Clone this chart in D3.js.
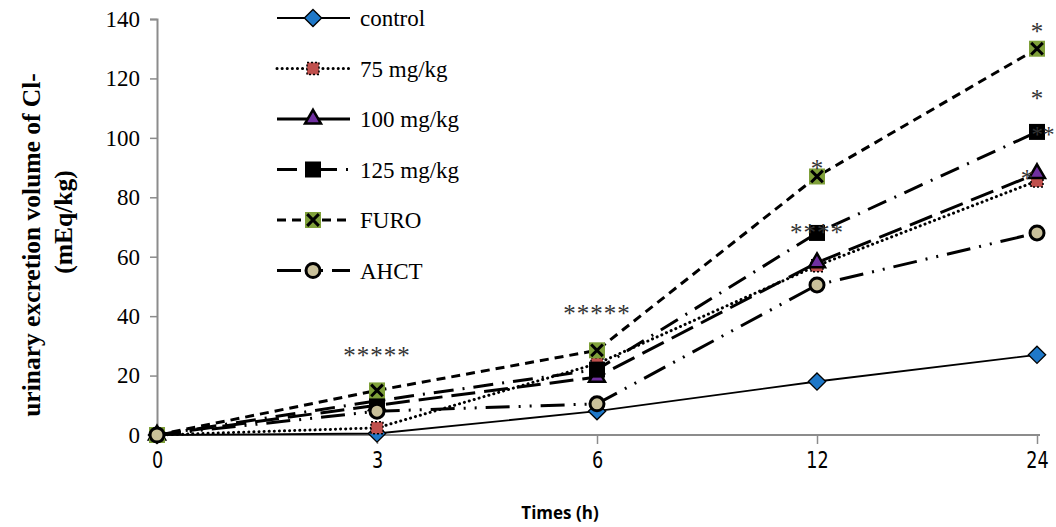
<!DOCTYPE html>
<html>
<head>
<meta charset="utf-8">
<script src="https://cdn.jsdelivr.net/npm/d3@7"></script>
<style>
  body { margin: 0; background: #fff; }
  svg { display: block; }
</style>
</head>
<body>
<svg id="chart"></svg>
<script>
// data
var times = ['0', '3', '6', '12', '24'];
var control = [0, 0.5, 8, 18, 27];
var mg75 = [0, 2.4, 24, 57, 85.5];
var mg100 = [0, 10, 19.5, 58, 88];
var mg125 = [0, 11.5, 22, 68, 102];
var furo = [0, 15, 28.5, 87, 130];
var ahct = [0, 8, 10.5, 50.5, 68];
var yTicks = [0, 20, 40, 60, 80, 100, 120, 140];

// star labels (time, value it sits at, text)
var stars = [
  ['3', 29, '*****'],
  ['6', 43, '*****'],
  ['12', 92, '*'],
  ['12', 70.5, '****'],
  ['24', 138, '*'],
  ['24', 115.5, '*'],
  ['24', 103.5, '**'],
  ['24', 88.5, '*']
];

var series = [
  { name: 'control', values: control, dash: null, marker: 'diamond', fill: '#1f78c8' },
  { name: '75 mg/kg', values: mg75, dash: '0.1,5', marker: 'star', fill: '#c0504d' },
  { name: '100 mg/kg', values: mg100, dash: '24,9', marker: 'triangle', fill: '#7030a0' },
  { name: '125 mg/kg', values: mg125, dash: '20,9,2,9', marker: 'square', fill: '#000' },
  { name: 'FURO', values: furo, dash: '9,6', marker: 'x', fill: '#7fa03a' },
  { name: 'AHCT', values: ahct, dash: '24,9,2,9,2,9', marker: 'circle', fill: '#c9c09a' }
];

var svgWidth = 1056, svgHeight = 527;

var svg = d3.select('#chart')
    .attr('width', svgWidth)
    .attr('height', svgHeight);

var xScale = d3.scalePoint()
    .domain(times)
    .range([157, 1037]);

var yScale = d3.scaleLinear()
    .domain([0, 140])
    .range([435, 19]);

// axes
var yAxis = svg.append('g')
    .attr('transform', 'translate(157,0)')
    .call(d3.axisLeft(yScale).tickValues(yTicks).tickSize(7).tickPadding(10));
yAxis.select('.domain').attr('stroke', '#8c8c8c').attr('stroke-width', 2);
yAxis.selectAll('.tick line').attr('stroke', '#8c8c8c').attr('stroke-width', 1.5);
yAxis.selectAll('.tick text')
    .style('font-family', '"Liberation Serif", "Times New Roman", serif')
    .style('font-size', '23px')
    .attr('fill', '#000');

var xAxis = svg.append('g')
    .attr('transform', 'translate(0,435)')
    .call(d3.axisBottom(xScale).tickSize(9).tickPadding(8).tickSizeOuter(0));
xAxis.select('.domain').attr('stroke', '#8c8c8c').attr('stroke-width', 2)
    .attr('d', 'M157,0H1040');
xAxis.selectAll('.tick line').attr('stroke', '#8c8c8c').attr('stroke-width', 1.5)
    .attr('display', function (d) { return d === '0' ? 'none' : null; });
// narrow labels, still centred on their ticks
xAxis.selectAll('.tick text')
    .style('font-family', '"Liberation Sans Narrow", "DejaVu Sans Condensed", sans-serif')
    .style('font-size', '23px')
    .attr('transform', 'scale(0.85,1)')
    .attr('fill', '#000');

// axis titles
svg.append('text')
    .attr('x', 560).attr('y', 519)
    .attr('text-anchor', 'middle')
    .style('font-family', '"Open Sans", "DejaVu Sans Condensed", sans-serif')
    .style('font-weight', 'bold')
    .style('font-size', '17px')
    .text('Times (h)');

svg.append('text')
    .attr('transform', 'translate(40,245) rotate(-90)')
    .attr('text-anchor', 'middle')
    .style('font-family', '"Liberation Serif", "Times New Roman", serif')
    .style('font-weight', 'bold')
    .style('font-size', '25.5px')
    .text('urinary excretion volume of Cl-');

svg.append('text')
    .attr('transform', 'translate(72,222) rotate(-90)')
    .attr('text-anchor', 'middle')
    .style('font-family', '"Liberation Serif", "Times New Roman", serif')
    .style('font-weight', 'bold')
    .style('font-size', '25.5px')
    .text('(mEq/kg)');

// markers
function drawMarker(g, s) {
  if (s.marker === 'diamond') {
    g.append('path').attr('d', d3.symbol(d3.symbolDiamond, 85)())
      .attr('transform', 'scale(1.75,1)')
      .attr('fill', s.fill).attr('stroke', '#000').attr('stroke-width', 1.3)
      .attr('vector-effect', 'non-scaling-stroke');
  } else if (s.marker === 'star') {
    g.append('rect').attr('x', -6).attr('y', -6).attr('width', 12).attr('height', 12)
      .attr('fill', s.fill).attr('stroke', '#000').attr('stroke-width', 1.5)
      .attr('stroke-dasharray', '2,2');
  } else if (s.marker === 'triangle') {
    g.append('path').attr('d', d3.symbol(d3.symbolTriangle, 110)())
      .attr('fill', s.fill).attr('stroke', '#000').attr('stroke-width', 2.5);
  } else if (s.marker === 'square') {
    g.append('rect').attr('x', -8).attr('y', -8).attr('width', 16).attr('height', 16)
      .attr('fill', s.fill);
  } else if (s.marker === 'x') {
    g.append('rect').attr('x', -8).attr('y', -8).attr('width', 16).attr('height', 16)
      .attr('fill', s.fill);
    g.append('path').attr('d', d3.symbol(d3.symbolX, 90)())
      .attr('stroke', '#000').attr('stroke-width', 3).attr('fill', 'none');
  } else if (s.marker === 'circle') {
    g.append('circle').attr('r', 7)
      .attr('fill', s.fill).attr('stroke', '#000').attr('stroke-width', 3);
  }
}

var line = d3.line()
    .x(function (d, i) { return xScale(times[i]); })
    .y(function (d) { return yScale(d); });

var plot = svg.append('g');

series.forEach(function (s) {
  plot.append('path')
    .datum(s.values)
    .attr('d', line)
    .attr('fill', 'none')
    .attr('stroke', '#000')
    .attr('stroke-width', s.marker === 'diamond' ? 1.8 : 3)
    .attr('stroke-linecap', s.dash === '0.1,5' ? 'round' : 'butt')
    .attr('stroke-dasharray', s.dash);
});

series.forEach(function (s) {
  s.values.forEach(function (v, i) {
    var g = plot.append('g')
      .attr('transform', 'translate(' + xScale(times[i]) + ',' + yScale(v) + ')');
    drawMarker(g, s);
  });
});

// star labels
svg.selectAll('.star')
    .data(stars)
    .enter()
    .append('text')
    .attr('class', 'star')
    .attr('x', function (d) { return xScale(d[0]) + (d[2] === '**' ? 6 : 0) - (d[1] === 88.5 ? 10 : 0); })
    .attr('y', function (d) { return yScale(d[1]) + 15; })
    .attr('text-anchor', 'middle')
    .attr('letter-spacing', function (d) { return d[2].length > 2 ? '1px' : null; })
    .style('font-family', '"Liberation Serif", "Times New Roman", serif')
    .style('font-size', function (d) { return d[2] === '**' ? '23px' : '25px'; })
    .attr('fill', '#333')
    .text(function (d) { return d[2]; });

// legend
var legend = svg.append('g');
series.forEach(function (s, i) {
  var y = 18 + i * 50.5;
  var g = legend.append('g').attr('transform', 'translate(0,' + y + ')');
  g.append('line')
    .attr('x1', 277).attr('x2', 350).attr('y1', 0).attr('y2', 0)
    .attr('stroke', '#000')
    .attr('stroke-width', s.marker === 'diamond' ? 1.8 : 3)
    .attr('stroke-linecap', s.dash === '0.1,5' ? 'round' : 'butt')
    .attr('stroke-dasharray', s.dash === '24,9' ? null : s.dash);
  var m = g.append('g').attr('transform', 'translate(313,0)');
  drawMarker(m, s);
  g.append('text')
    .attr('x', 360).attr('y', 8)
    .style('font-family', '"Liberation Serif", "Times New Roman", serif')
    .style('font-size', '23px')
    .attr('fill', '#000')
    .text(s.name);
});
</script>
</body>
</html>
